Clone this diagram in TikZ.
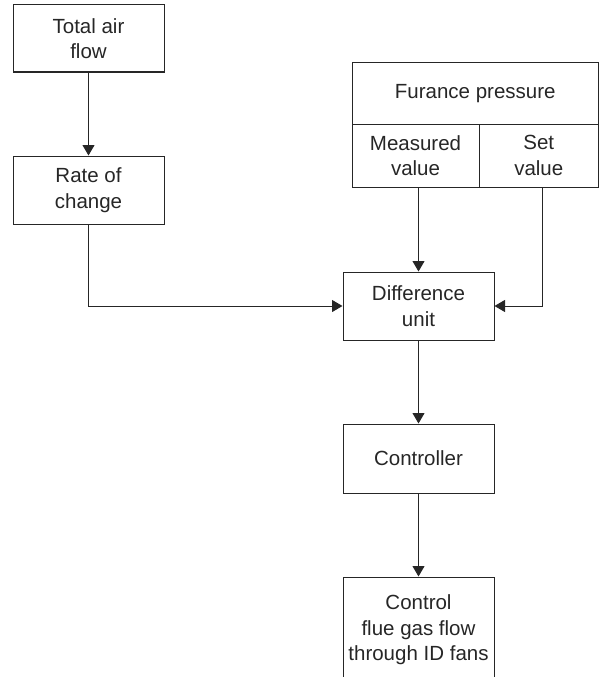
\documentclass[tikz,border=0pt]{standalone}
\usepackage{fontspec}
\setmainfont{Liberation Sans}
\usepackage{tikz}
\usetikzlibrary{arrows.meta}
\tikzset{
  blk/.style={draw=black!85,line width=1pt,inner sep=0pt,align=center,font=\fontsize{20.5}{25.5}\selectfont,text=black!85},
  flw/.style={draw=black!85,line width=1pt,-{Triangle[length=10.5pt,width=12pt]}},
  ln/.style={draw=black!85,line width=1pt}
}

\begin{document}
\begin{tikzpicture}[x=1pt,y=-1pt]
\useasboundingbox (0,0) rectangle (599,677);
\node[blk,minimum width=151,minimum height=67] (air) at (88.5,38.5) {Total air\\flow};
\node[blk,minimum width=151,minimum height=68] (rate) at (88.5,190) {Rate of\\change};
\node[blk,minimum width=246.5,minimum height=61] (fp) at (475.25,93.5) {Furance pressure};
\node[blk,minimum width=127,minimum height=63] (meas) at (415.5,155.5) {Measured\\value};
\node[blk,minimum width=119.5,minimum height=63] (setv) at (538.75,155.5) {Set\\value};
\node[blk,minimum width=151,minimum height=68] (diff) at (418.5,306) {Difference\\unit};
\node[blk,minimum width=151,minimum height=69] (ctrl) at (418.5,458.5) {Controller};
\node[blk,minimum width=151,minimum height=106] (out) at (418.5,630) {Control\\flue gas flow\\through ID fans};
\draw[flw] (air) -- (rate);
\draw[flw] (rate.south) |- (diff.west);
\draw[flw] (diff.north |- meas.south) -- (diff.north);
\draw[flw] ([xshift=4]setv.south) |- (diff.east);
\draw[flw] (diff) -- (ctrl);
\draw[flw] (ctrl) -- (out);
\end{tikzpicture}
\end{document}
